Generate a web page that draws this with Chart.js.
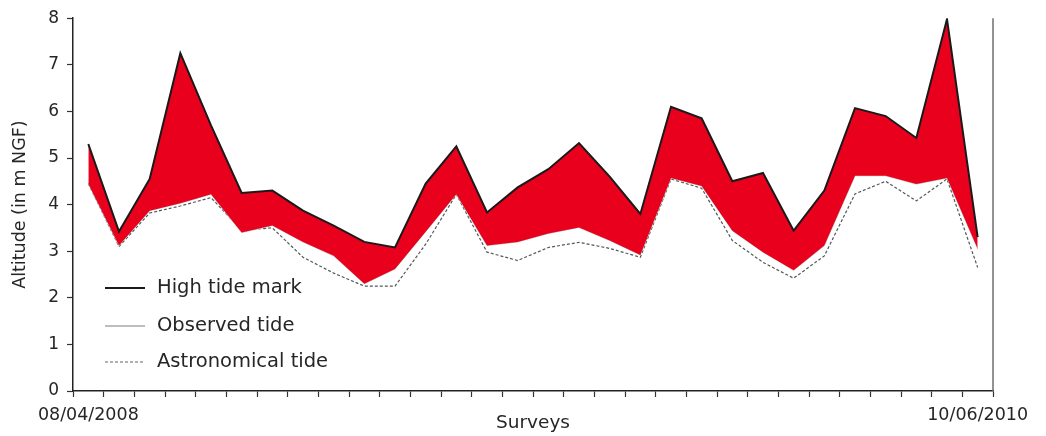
<!DOCTYPE html>
<html>
<head>
<meta charset="utf-8">
<script src="https://cdn.jsdelivr.net/npm/chart.js@4.4.1/dist/chart.umd.min.js"></script>
<style>
  html, body { margin: 0; padding: 0; background: #fff; }
  #wrap { width: 1046px; height: 436px; position: relative; }
</style>
</head>
<body>
<div id="wrap"><canvas id="tides"></canvas></div>
<script>
// Survey dates: only the first and last are printed under the axis
const surveyLabels = [
  '08/04/2008', '', '', '', '', '', '', '', '', '',
  '', '', '', '', '', '', '', '', '', '',
  '', '', '', '', '', '', '', '', '', '10/06/2010'
];

// Altitudes in m NGF, one value per survey
const highTideMark = [
  5.3, 3.42, 4.55, 7.25, 5.7, 4.25, 4.3, 3.87, 3.55, 3.2,
  3.08, 4.45, 5.25, 3.83, 4.37, 4.76, 5.32, 4.6, 3.8, 6.1,
  5.85, 4.5, 4.68, 3.44, 4.3, 6.07, 5.9, 5.43, 7.98, 3.3
];
const observedTide = [
  4.45, 3.12, 3.87, 4.03, 4.22, 3.4, 3.55, 3.2, 2.9, 2.3,
  2.62, 3.42, 4.22, 3.12, 3.2, 3.38, 3.51, 3.23, 2.92, 4.57,
  4.4, 3.44, 2.98, 2.59, 3.12, 4.62, 4.62, 4.44, 4.57, 3.05
];
const astronomicalTide = [
  4.45, 3.1, 3.82, 3.97, 4.15, 3.45, 3.5, 2.87, 2.53, 2.25,
  2.25, 3.15, 4.22, 2.98, 2.8, 3.08, 3.19, 3.06, 2.87, 4.55,
  4.35, 3.23, 2.76, 2.42, 2.9, 4.23, 4.5, 4.08, 4.55, 2.65
];
const yTicks = [0, 1, 2, 3, 4, 5, 6, 7, 8];

const FONT = '"DejaVu Sans", "Liberation Sans", sans-serif';
const TEXT = '#262626';

// Legend drawn inside the plot area, lower left
const insideLegend = {
  id: 'insideLegend',
  afterDatasetsDraw(chart) {
    const ctx = chart.ctx;
    const rows = [288, 326, 362];
    ctx.save();
    chart.data.datasets.forEach((ds, i) => {
      const y = rows[i];
      ctx.beginPath();
      ctx.strokeStyle = ds.legendColor;
      ctx.lineWidth = ds.legendWidth;
      ctx.setLineDash(ds.borderDash || []);
      ctx.moveTo(105, y);
      ctx.lineTo(145, y);
      ctx.stroke();
      ctx.setLineDash([]);
      ctx.fillStyle = TEXT;
      ctx.font = '19.5px ' + FONT;
      ctx.textBaseline = 'middle';
      ctx.textAlign = 'left';
      ctx.fillText(ds.label, 157, y);
    });
    ctx.restore();
  }
};

// Right-hand frame line of the plot
const rightFrame = {
  id: 'rightFrame',
  afterDraw(chart) {
    const a = chart.chartArea;
    const ctx = chart.ctx;
    ctx.save();
    ctx.strokeStyle = '#6e6e6e';
    ctx.lineWidth = 1.5;
    ctx.beginPath();
    ctx.moveTo(a.right, a.top);
    ctx.lineTo(a.right, a.bottom);
    ctx.stroke();
    ctx.restore();
  }
};

new Chart(document.getElementById('tides'), {
  type: 'line',
  data: {
    labels: surveyLabels,
    datasets: [
      {
        label: 'High tide mark',
        data: highTideMark,
        borderColor: '#1a1a1a',
        borderWidth: 2,
        backgroundColor: 'rgb(232, 0, 28)',
        fill: '+1',
        pointRadius: 0,
        tension: 0,
        legendColor: '#1a1a1a',
        legendWidth: 2
      },
      {
        label: 'Observed tide',
        data: observedTide,
        borderColor: '#c4c4c4',
        borderWidth: 1,
        fill: false,
        pointRadius: 0,
        tension: 0,
        legendColor: '#a8a8a8',
        legendWidth: 1.5
      },
      {
        label: 'Astronomical tide',
        data: astronomicalTide,
        borderColor: '#4f5a58',
        borderWidth: 1.2,
        borderDash: [3, 2],
        fill: false,
        pointRadius: 0,
        tension: 0,
        legendColor: '#5a6664',
        legendWidth: 1.2
      }
    ]
  },
  options: {
    responsive: true,
    maintainAspectRatio: false,
    animation: false,
    layout: { padding: { top: 16, right: 53, left: 0, bottom: 0 } },
    plugins: {
      legend: { display: false },
      tooltip: { enabled: false }
    },
    scales: {
      x: {
        type: 'category',
        offset: true,
        afterFit(scale) { scale.height = 45; },
        grid: {
          offset: true,
          drawOnChartArea: false,
          drawTicks: true,
          tickLength: 6,
          tickColor: '#333',
          tickWidth: 1.2
        },
        border: { display: true, color: '#222', width: 1.5 },
        ticks: {
          autoSkip: false,
          maxRotation: 0,
          padding: 8,
          color: TEXT,
          font: { family: FONT, size: 17.5 },
          callback: (v, i) => surveyLabels[i]
        },
        title: {
          display: true,
          text: 'Surveys',
          color: TEXT,
          font: { family: FONT, size: 18.5 },
          padding: { top: 0, bottom: 2 }
        }
      },
      y: {
        min: yTicks[0],
        max: yTicks[yTicks.length - 1],
        afterFit(scale) { scale.width = 73; },
        afterBuildTicks(scale) { scale.ticks = yTicks.map(v => ({ value: v })); },
        grid: {
          drawOnChartArea: false,
          drawTicks: true,
          tickLength: 6,
          tickColor: '#333',
          tickWidth: 1.2
        },
        border: { display: true, color: '#222', width: 1.5 },
        ticks: {
          padding: 8,
          color: TEXT,
          font: { family: FONT, size: 17 }
        },
        title: {
          display: true,
          text: 'Altitude (in m NGF)',
          color: TEXT,
          font: { family: FONT, size: 17.5 },
          padding: { top: 10, bottom: 0 }
        }
      }
    }
  },
  plugins: [insideLegend, rightFrame]
});
</script>
</body>
</html>
